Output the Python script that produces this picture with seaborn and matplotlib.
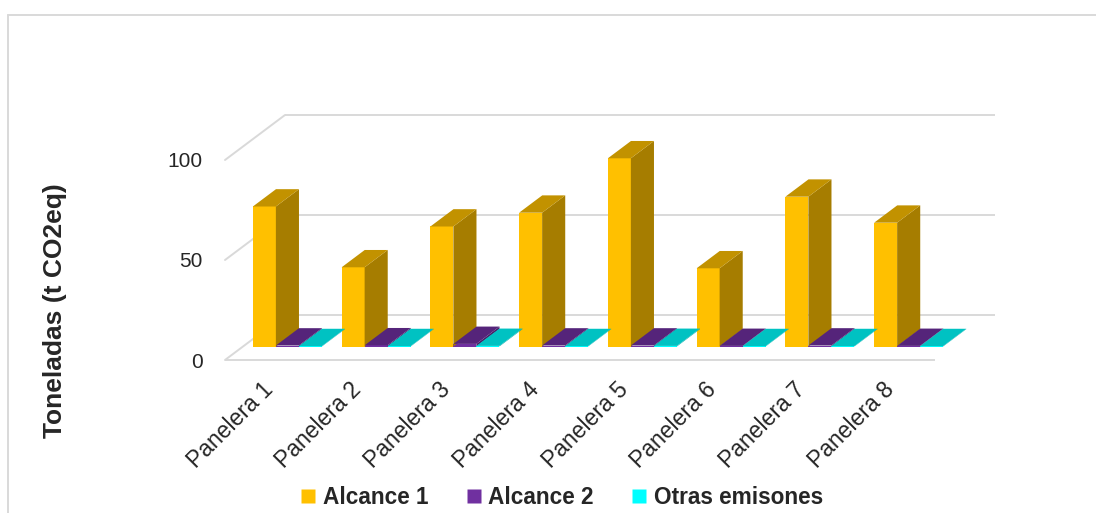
import numpy as np
import pandas as pd
import seaborn as sns
import matplotlib.pyplot as plt
from matplotlib.patches import Polygon
from matplotlib.lines import Line2D
import matplotlib.colors as mcolors

# --- data -------------------------------------------------------------
categorias = ["Panelera 1", "Panelera 2", "Panelera 3", "Panelera 4",
              "Panelera 5", "Panelera 6", "Panelera 7", "Panelera 8"]
alcance_1 = [70.0, 39.6, 60.0, 66.9, 94.1, 39.1, 74.9, 61.9]
alcance_2 = [0.5, 0.6, 1.3, 0.5, 0.5, 0.3, 0.5, 0.3]
otras_emisiones = [0.2, 0.2, 0.3, 0.2, 0.3, 0.2, 0.2, 0.2]
series = ["Alcance 1", "Alcance 2", "Otras emisones"]
y_ticks = [0, 50, 100]

colores = {"Alcance 1": "#FFC000", "Alcance 2": "#7030A0", "Otras emisones": "#00FFFF"}

df = pd.DataFrame({
    "categoria": categorias * 3,
    "serie": [s for s in series for _ in categorias],
    "valor": alcance_1 + alcance_2 + otras_emisiones,
})

# --- pseudo-3D geometry (data units) ---------------------------------
PX_PER_CAT = 88.75       # horizontal pixels per category
PX_PER_UNIT = 2.0        # vertical pixels per tonne
DX = 60 / PX_PER_CAT     # full floor depth, horizontal component
DY = 45 / PX_PER_UNIT    # full floor depth, vertical component
F0 = 0.30                # depth of the bar front faces
FB = 0.385               # depth of the bars themselves
GROUP_W = 69 / PX_PER_CAT

W, H = 1096, 513
sns.set_style("white")
plt.rcParams["font.family"] = ["Liberation Sans", "DejaVu Sans"]

fig = plt.figure(figsize=(W / 100, H / 100), dpi=100)
ax = fig.add_axes([225 / W, 1 - 360 / H, 770 / W, 245 / H])

sns.barplot(data=df, x="categoria", y="valor", hue="serie", palette=colores,
            width=GROUP_W, saturation=1, legend=False, linewidth=0, ax=ax,
            zorder=3)

x_lo, x_hi = -0.5 - F0 * DX, 7.5 + (1 - F0) * DX
y_lo, y_hi = -F0 * DY, 100 + (1 - F0) * DY
ax.set_xlim(x_lo, x_hi)
ax.set_ylim(y_lo, y_hi)

# walls: back-wall gridlines, side-wall diagonals, floor front edge
grid_c = "#D9D9D9"
for v in y_ticks:
    ax.plot([-0.5 + (1 - F0) * DX, 7.5 + (1 - F0) * DX],
            [v + (1 - F0) * DY] * 2, color=grid_c, lw=1.4, zorder=0,
            clip_on=False, solid_capstyle="butt")
    ax.plot([-0.5 - F0 * DX, -0.5 + (1 - F0) * DX],
            [v - F0 * DY, v + (1 - F0) * DY], color=grid_c, lw=1.4, zorder=0,
            clip_on=False)
ax.plot([-0.5 - F0 * DX, 7.5 - F0 * DX], [-F0 * DY] * 2, color=grid_c,
        lw=1.4, zorder=0, clip_on=False, solid_capstyle="butt")

# top and side faces of every bar
bars = sorted([p for p in ax.patches if p.get_width() > 0], key=lambda p: p.get_x())
dx, dy = FB * DX, FB * DY
for p in bars:
    x0, w, h = p.get_x(), p.get_width(), p.get_height()
    rgb = np.array(mcolors.to_rgb(p.get_facecolor()))
    top = Polygon([(x0, h), (x0 + w, h), (x0 + w + dx, h + dy), (x0 + dx, h + dy)],
                  closed=True, facecolor=rgb * 0.76, edgecolor="none", zorder=3)
    side = Polygon([(x0 + w, 0), (x0 + w, h), (x0 + w + dx, h + dy), (x0 + w + dx, dy)],
                   closed=True, facecolor=rgb * 0.65, edgecolor="none", zorder=3)
    ax.add_patch(side)
    ax.add_patch(top)

# axes, ticks and labels on the front plane
for s in ax.spines.values():
    s.set_visible(False)
ax.set_yticks([v - F0 * DY for v in y_ticks])
ax.set_yticklabels([str(v) for v in y_ticks], fontsize=15)
ax.tick_params(axis="y", length=0, pad=16)
ax.set_xticks([i - F0 * DX for i in range(len(categorias))])
ax.set_xticklabels(categorias, fontsize=16.5, rotation=45, ha="right",
                   rotation_mode="anchor", va="center")
ax.tick_params(axis="x", length=0, pad=19)
ax.set_xlabel("")
ax.set_ylabel("")
ax.grid(False)

fig.text(55 / W, 1 - 311 / H, "Toneladas (t CO2eq)", rotation=90,
         ha="center", va="center", fontsize=19, fontweight="bold")

handles = [Line2D([], [], marker="s", linestyle="none", markersize=9.5,
                  markerfacecolor=colores[s], markeredgecolor="none") for s in series]
fig.legend(handles, series, loc="center", bbox_to_anchor=(561 / W, 1 - 497 / H),
           ncol=3, frameon=False, handlelength=0.8, handletextpad=0.25,
           columnspacing=1.6, prop={"weight": "bold", "size": 16.3})

# chart frame
fig.add_artist(Line2D([8 / W, 1], [1 - 15 / H] * 2, color=grid_c, lw=1.4))
fig.add_artist(Line2D([8 / W] * 2, [0, 1 - 15 / H], color=grid_c, lw=1.4))

fig.savefig("out.png", dpi=100, facecolor="white")
